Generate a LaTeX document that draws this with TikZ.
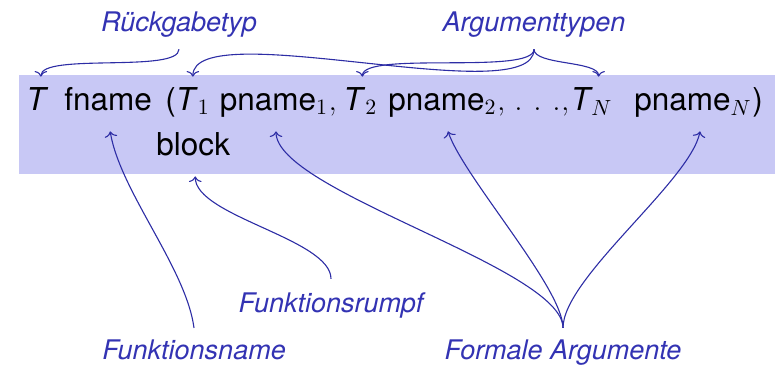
\documentclass[tikz,border=0pt]{standalone}
\usepackage{fontspec}
\setmainfont{TeX Gyre Heros}
\usetikzlibrary{arrows.meta}
\definecolor{struct}{RGB}{51,51,179}
\definecolor{arrowc}{RGB}{45,45,165}
\definecolor{bgc}{RGB}{200,200,245}
\begin{document}
\begin{tikzpicture}[x=0.5pt,y=-0.5pt,
  tok/.style={anchor=base west, inner xsep=0pt, inner ysep=4.5pt, text height=12pt, text depth=6pt, font=\fontsize{15.75}{19}\selectfont},
  lab/.style={anchor=base, inner xsep=0pt, inner ysep=5.5pt, text=struct, font=\fontsize{13.5}{16}\selectfont\itshape},
  arr/.style={draw=arrowc, line width=0.55pt, -{Computer Modern Rightarrow[length=2.8pt,width=6.3pt]}}]
\useasboundingbox (0,0) rectangle (775,364);
\fill[bgc] (19,75) rectangle (775,174);
% main line
\node[tok] (tT) at (26,110) {\textit{T}};
\node[tok] (tfname) at (64,110) {fname};
\node[tok] (tpar) at (165,110) {(};
\node[tok] (tT1) at (175.5,110) {\textit{T}$_1$};
\node[tok] (tp1) at (219.5,110) {pname$_1$};
\node[tok] (tc1) at (tp1.base east) {$,$};
\node[tok] (tT2) at (343,110) {\textit{T}$_2$};
\node[tok] (tp2) at (388,110) {pname$_2$};
\node[tok] (tc2) at (tp2.base east) {$,$\hspace{4.7pt}$.$\hspace{5.6pt}$.$\hspace{5.6pt}$.$\hspace{0.5pt}$,$};
\node[tok] (tTN) at (570.5,110) {{\itshape T}\kern0.6pt$_N$};
\node[tok] (tpN) at (634,110) {pname$_N$};
\node[tok] (tcl) at (tpN.base east) {)};
\node[tok] (tblock) at (156,155) {block};
% labels
\node[lab] (lrueck) at (179,32) {Rückgabetyp};
\node[lab] (larg) at (534,32) {Argumenttypen};
\node[lab] (lrumpf) at (331,312) {Funktionsrumpf};
\node[lab] (lfname) at (194,359) {Funktionsname};
\node[lab] (lformal) at (563,359) {Formale Argumente};
% arrows to types
\draw[arr] (lrueck.south) .. controls +(0,24) and +(0,-24) .. ([xshift=1.75pt]tT.north);
\draw[arr] (larg.south) .. controls +(0,63) and +(0,-63) .. (tT1.north);
\draw[arr] (larg.south) .. controls +(0,26) and +(0,-26) .. ([xshift=1pt]tT2.north);
\draw[arr] (larg.south) .. controls +(0,16) and +(0,-16) .. ([xshift=3.5pt]tTN.north);
% arrows to names
\draw[arr] (lfname.north) .. controls +(-8,-60) and +(10,60) .. ([xshift=1pt]tfname.south);
\draw[arr] ([yshift=1pt]lrumpf.north) .. controls +(0,-40) and +(0,40) .. ([xshift=1pt]tblock.south);
\draw[arr] (lformal.north) .. controls +(0,-60) and +(0,60) .. ([xshift=1pt]tp1.south);
\draw[arr] (lformal.north) .. controls +(0,-40) and +(15,45) .. ([xshift=2.75pt]tp2.south);
\draw[arr] (lformal.north) .. controls +(0,-50) and +(-10,50) .. ([xshift=3.5pt]tpN.south);
\end{tikzpicture}
\end{document}
